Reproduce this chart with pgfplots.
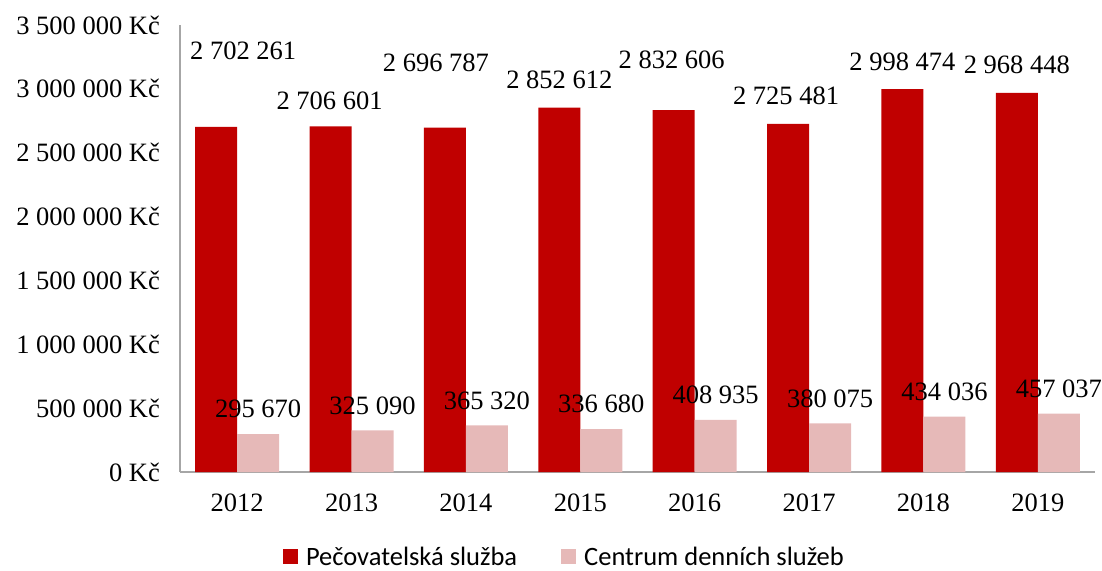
\documentclass[border=0pt]{standalone}
\usepackage{pgfplots}
\pgfplotsset{compat=1.18}
\usepackage{pgfplotstable}
\usepackage{fontspec}
\setmainfont{Liberation Serif}
\newfontfamily\legendfont{Carlito}
\definecolor{cRed}{HTML}{C00000}
\definecolor{cPink}{HTML}{E6B9B8}
\definecolor{axisgray}{HTML}{A6A6A6}

% red series: value, label offsets (pt) relative to bar top centre
\pgfplotstableread{
x y dx dy label
0 2702261 27 76 2~702~261
1 2706601 -1 26 2~706~601
2 2696787 -9 65 2~696~787
3 2852612 0 28 2~852~612
4 2832606 -2 50 2~832~606
5 2725481 -2 28 2~725~481
6 2998474 0 27 2~998~474
7 2968448 0 28 2~968~448
}\redtable

\pgfplotstableread{
x y dx dy label
0 295670 0 25 295~670
1 325090 0 25 325~090
2 365320 0 25 365~320
3 336680 0 25 336~680
4 408935 0 25 408~935
5 380075 0 25 380~075
6 434036 0 25 434~036
7 457037 0 25 457~037
}\pinktable

\begin{document}
\begin{tikzpicture}
\begin{axis}[
  scale only axis, width=915pt, height=447pt,
  ybar=0pt, bar width=42pt,
  xmin=-0.5, xmax=7.5, ymin=0, ymax=3500000,
  xtick={0,1,2,3,4,5,6,7},
  xticklabels={2012,2013,2014,2015,2016,2017,2018,2019},
  ytick={0,500000,1000000,1500000,2000000,2500000,3000000,3500000},
  yticklabels={{0 Kč},{500 000 Kč},{1 000 000 Kč},{1 500 000 Kč},{2 000 000 Kč},{2 500 000 Kč},{3 000 000 Kč},{3 500 000 Kč}},
  scaled y ticks=false,
  axis x line*=bottom, axis y line*=left,
  axis line style={axisgray, line width=1.2pt, -},
  major tick length=0pt,
  tick label style={font=\fontsize{26.5}{28}\selectfont},
  yticklabel style={anchor=east, inner sep=0pt, xshift=-20pt},
  xticklabel style={anchor=north, inner sep=0pt, yshift=-22pt},
  legend style={at={(0.1126,-0.19)}, anchor=west, draw=none,
    inner sep=0pt, outer sep=0pt,
    font=\legendfont\fontsize{26.5}{28}\selectfont,
    nodes={inner sep=0pt},
    /tikz/every odd column/.append style={column sep=8pt},
    /tikz/every even column/.append style={column sep=44pt}},
  legend columns=2,
  legend image code/.code={\fill[#1] (0pt,-7.5pt) rectangle (15pt,7.5pt);},
  nodes near coords,
  point meta=explicit symbolic,
  visualization depends on={\thisrow{dx}\as\labdx},
  visualization depends on={\thisrow{dy}\as\labdy},
  every node near coord/.append style={anchor=center, inner sep=0pt,
    xshift=\labdx pt, yshift=\labdy pt, font=\fontsize{26.5}{28}\selectfont, black},
]
\addplot[fill=cRed, draw=none] table[x=x, y=y, meta=label] {\redtable};
\addplot[fill=cPink, draw=none] table[x=x, y=y, meta=label] {\pinktable};
\legend{Pečovatelská služba, Centrum denních služeb}
\end{axis}
\pgfresetboundingbox
\path[use as bounding box] (-180pt,-98pt) rectangle (922pt,472pt);
\end{tikzpicture}
\end{document}
